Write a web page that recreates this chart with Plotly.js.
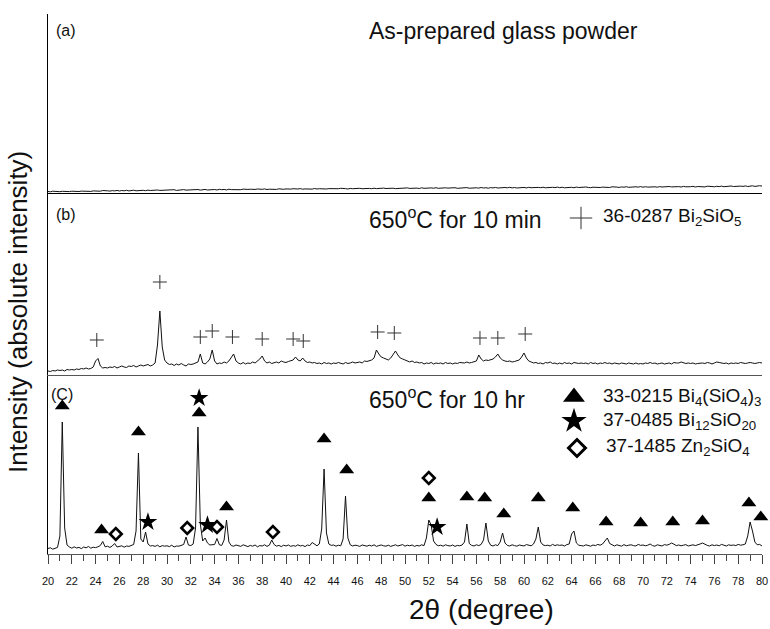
<!DOCTYPE html>
<html>
<head>
<meta charset="utf-8">
<script src="https://cdn.plot.ly/plotly-3.0.1.min.js"></script>
<style>
  html, body { margin: 0; padding: 0; background: #fff; }
  #chart { width: 770px; height: 629px; }
</style>
</head>
<body>
<div id="chart"></div>
<script>
// XRD scans, 2-theta from 20 to 80 degrees in 0.2 degree steps (counts, arbitrary units)
const TWO_THETA_START = 20;
const TWO_THETA_STEP = 0.2;

// (a) as-prepared glass powder
const glassPowder = [
  15,12,18,14,16, 13,17,15,19,14, 18,16,20,15,19, 17,22,18,16,21, 19,23,18,25,20,
  22,19,24,21,26, 20,25,22,27,21, 24,28,22,26,23, 27,23,29,25,28, 24,30,26,28,25,
  31,27,29,33,26, 30,28,34,29,31, 27,33,30,35,29, 32,36,30,34,31, 35,30,37,33,36,
  31,38,34,32,37, 35,33,39,34,36, 38,34,36,40,35, 37,41,35,38,36, 40,36,42,38,37,
  41,37,39,43,38, 40,44,38,41,39, 42,39,45,40,43, 41,46,40,44,42, 45,41,43,47,42,
  44,40,46,43,45, 42,47,43,45,41, 46,43,48,44,47, 43,49,45,47,44, 48,44,46,50,45,
  47,51,46,48,44, 49,45,52,47,50, 46,51,48,53,47, 50,46,52,49,51, 48,53,47,50,52,
  49,54,48,51,47, 52,49,55,50,53, 48,54,51,56,50, 53,49,55,52,57, 51,55,50,54,52,
  56,51,57,53,55, 50,56,53,58,52, 55,51,57,54,59, 53,58,52,56,54, 57,53,59,55,58,
  54,60,56,53,58, 56,61,55,59,57, 60,55,62,57,59, 56,61,58,63,57, 60,57,62,59,64,
  58,63,59,61,57, 62,58,64,60,63, 59,65,61,63,58, 64,60,66,62,61, 63,67,60,65,62,
  66,61,68,63,65, 62,67,64,69,63, 66,63,70,65,68, 64,69,66,71,65, 68,72,66,70,73,
  69
];

// (b) 650 C for 10 min
const heated10min = [
  40,35,45,40,50, 45,50,40,55,50, 55,50,60,55,65, 60,70,60,65,80, 140,165,90,70,75,
  70,80,75,85,70, 80,90,80,75,90, 85,95,80,90,100, 90,95,105,90,100, 120,300,640,280,150,
  120,105,110,95,110, 100,115,100,90,110, 105,110,120,130,210, 120,110,130,160,250,
  140,110,120,115,130, 120,140,180,210,140, 120,110,125,110,120, 115,130,120,140,160,
  190,140,120,130,115, 125,130,120,140,130, 125,135,140,150,180, 150,140,170,140,125,
  130,120,125,115,120, 110,125,115,120,110, 120,115,125,120,110, 125,115,120,130,120,
  125,130,120,140,135, 140,150,170,250,210, 180,170,160,150,170, 200,240,200,170,160,
  150,140,130,140,125, 130,120,125,110,120, 115,125,110,120,115, 120,110,125,115,120,
  110,120,115,125,120, 120,130,120,125,135, 140,200,160,140,150, 145,150,160,180,210,
  170,150,140,135,140, 130,135,140,150,180, 220,170,140,130,120, 125,115,120,110,125,
  120,130,115,120,110, 120,110,125,115,120, 110,125,120,115,120, 115,120,110,125,115,
  120,110,120,115,125, 115,120,110,120,115, 110,120,115,110,120, 115,110,120,110,115,
  110,120,115,125,115, 120,110,115,120,110, 115,120,110,125,120, 120,130,120,115,120,
  115,120,110,115,120, 120,115,125,120,110, 120,130,125,120,115, 120,110,120,115,120,
  115,125,120,115,120, 125,120,115,120,125, 120
];

// (c) 650 C for 10 hr
const heated10hr = [
  55,62,48,60,66, 180,1320,260,90,70, 58,72,60,66,54, 70,62,75,58,68, 64,72,85,125,72,
  78,66,80,105,70, 74,82,68,80,76, 86,95,230,1010,150, 120,220,100,80,84, 76,88,72,84,78,
  82,74,88,70,80, 78,86,95,170,90, 84,100,260,1270,300, 130,160,110,90,96, 95,155,92,86,140,
  340,120,84,78,90, 82,76,92,80,74, 86,78,90,72,84, 80,92,76,88,140, 95,78,86,74,88,
  80,90,76,84,78, 92,80,86,74,90, 84,115,96,82,100, 250,850,210,100,86, 90,78,88,82,150,
  580,160,92,80,88, 84,76,90,82,78, 88,80,92,76,84, 90,82,78,88,76, 84,92,80,86,94,
  78,88,82,90,76, 86,80,92,84,160, 340,290,130,96,82, 88,78,92,84,80, 90,76,86,82,90,
  120,300,105,86,80, 92,84,96,140,310, 130,88,80,92,84, 120,210,110,86,80, 92,84,78,90,86,
  80,94,86,82,100, 150,270,120,90,84, 88,80,96,84,92, 86,90,80,94,100, 200,230,110,88,84,
  80,92,86,78,90, 84,96,88,100,130, 160,105,88,80,92, 86,78,94,82,88, 92,84,80,96,86,
  90,82,88,100,84, 78,92,86,80,94, 88,96,110,98,84, 90,82,88,94,80, 86,92,84,96,100,
  110,94,86,80,92, 84,90,82,96,88, 80,92,86,90,84, 96,88,92,100,180, 320,230,120,92,96,
  80
];

// Phase reflections marked on panel (b): 36-0287 Bi2SiO5
const bi2sio5Theta  = [24.1, 29.4, 32.8, 33.8, 35.5, 38.0, 40.6, 41.45, 47.7, 49.1, 56.3, 57.8, 60.1];
const bi2sio5Level  = [350, 930, 380, 440, 380, 360, 360, 340, 430, 420, 370, 370, 410];

// Phase reflections marked on panel (c)
const bi4sio43Theta = [21.2, 24.5, 27.6, 32.7, 35.0, 43.2, 45.1, 52.0, 55.2, 56.7, 58.3, 61.2, 64.1, 66.9, 69.8, 72.5, 75.0, 78.9, 79.9];
const bi4sio43Level = [1480, 240, 1220, 1410, 470, 1150, 840, 560, 570, 560, 400, 560, 460, 320, 310, 320, 330, 510, 370];
const bi12sio20Theta = [28.4, 32.7, 33.4, 52.7];
const bi12sio20Level = [320, 1560, 290, 270];
const zn2sio4Theta  = [25.7, 31.7, 34.2, 38.9, 52.0];
const zn2sio4Level  = [200, 260, 270, 220, 760];

// plot-area geometry helpers (pixels -> paper fractions)
const L = 48, R = 762, T = 14, B = 554;
const px = x => (x - L) / (R - L);
const py = y => (B - y) / (B - T);

const FONT = 'Liberation Sans, Arial, sans-serif';
const INK = '#111';

const scan = (y, xa, ya) => ({
  type: 'scatter', mode: 'lines', x0: TWO_THETA_START, dx: TWO_THETA_STEP, y: y,
  xaxis: xa, yaxis: ya, line: { color: INK, width: 1 }, hoverinfo: 'skip'
});

const tri = { symbol: 'triangle-up', size: 13, color: '#000' };
const star = { symbol: 'star', size: 14, color: '#000' };
const diam = { symbol: 'diamond-open', size: 9, color: '#000', line: { width: 2.6, color: '#000' } };
const cross = { symbol: 'cross-thin', size: 10, line: { width: 1, color: '#333' } };

const data = [
  scan(heated10hr, 'x', 'y'),
  scan(heated10min, 'x2', 'y2'),
  scan(glassPowder, 'x3', 'y3'),
  { type: 'scatter', mode: 'markers', x: bi2sio5Theta, y: bi2sio5Level, xaxis: 'x2', yaxis: 'y2', marker: cross, cliponaxis: false },
  { type: 'scatter', mode: 'markers', x: bi4sio43Theta, y: bi4sio43Level, xaxis: 'x', yaxis: 'y', marker: tri, cliponaxis: false },
  { type: 'scatter', mode: 'markers', x: bi12sio20Theta, y: bi12sio20Level, xaxis: 'x', yaxis: 'y', marker: star, cliponaxis: false },
  { type: 'scatter', mode: 'markers', x: zn2sio4Theta, y: zn2sio4Level, xaxis: 'x', yaxis: 'y', marker: diam, cliponaxis: false },
  // key symbols next to the phase labels
  { type: 'scatter', mode: 'markers', x: [px(581)], y: [py(218)], xaxis: 'x4', yaxis: 'y4',
    marker: { symbol: 'cross-thin', size: 16, line: { width: 1, color: '#333' } }, cliponaxis: false },
  { type: 'scatter', mode: 'markers', x: [px(574)], y: [py(397)], xaxis: 'x4', yaxis: 'y4',
    marker: { symbol: 'triangle-up', size: 19, color: '#000' }, cliponaxis: false },
  { type: 'scatter', mode: 'markers', x: [px(574)], y: [py(421)], xaxis: 'x4', yaxis: 'y4',
    marker: { symbol: 'star', size: 19, color: '#000' }, cliponaxis: false },
  { type: 'scatter', mode: 'markers', x: [px(577)], y: [py(448)], xaxis: 'x4', yaxis: 'y4',
    marker: { symbol: 'diamond-open', size: 13, color: '#000', line: { width: 3, color: '#000' } }, cliponaxis: false }
];

const hiddenY = (domain, top) => ({
  domain: domain, range: [0, top], showline: true, linecolor: '#000', linewidth: 1,
  ticks: '', showticklabels: false, showgrid: false, zeroline: false, fixedrange: true
});
const upperX = (anchor, color) => ({
  matches: 'x', anchor: anchor, showline: true, linecolor: color, linewidth: 1,
  ticks: '', showticklabels: false, showgrid: false, zeroline: false
});

const ann = (text, x, y, size, extra) => Object.assign({
  text: text, xref: 'paper', yref: 'paper', x: px(x), y: py(y),
  xanchor: 'left', yanchor: 'middle', showarrow: false,
  font: { family: FONT, size: size, color: '#111' }
}, extra || {});

const layout = {
  width: 770, height: 629,
  margin: { l: L, r: 770 - R, t: T, b: 629 - B },
  paper_bgcolor: '#fff', plot_bgcolor: 'rgba(0,0,0,0)',
  showlegend: false,
  xaxis: {
    domain: [0, 1], range: [20, 80], anchor: 'y',
    showline: true, linecolor: '#555', linewidth: 1,
    ticks: 'outside', tick0: 20, dtick: 2, ticklen: 9, tickcolor: '#444', tickwidth: 1,
    minor: { dtick: 1, ticks: 'outside', ticklen: 6, tickcolor: '#444', tickwidth: 1 },
    ticklabelstandoff: 8,
    tickfont: { family: FONT, size: 11, color: '#111' },
    showgrid: false, zeroline: false
  },
  xaxis2: upperX('y2', '#555'),
  xaxis3: upperX('y3', '#000'),
  yaxis: hiddenY([0, 0.3315], 1790),
  yaxis2: hiddenY([0.3315, 0.6685], 1820),
  yaxis3: hiddenY([0.6685, 1], 1790),
  xaxis4: { domain: [0, 1], range: [0, 1], anchor: 'y4', visible: false, fixedrange: true },
  yaxis4: { domain: [0, 1], range: [0, 1], anchor: 'x4', visible: false, fixedrange: true },
  annotations: [
    ann('(a)', 54, 31, 16),
    ann('As-prepared glass powder', 367, 31, 23),
    ann('(b)', 54, 214, 16),
    ann('650<sup>o</sup>C for 10 min', 367, 218, 23),
    ann('36-0287 Bi<sub>2</sub>SiO<sub>5</sub>', 601, 217, 19),
    ann('(C)', 49, 395, 16),
    ann('650<sup>o</sup>C for 10 hr', 367, 398, 23),
    ann('33-0215 Bi<sub>4</sub>(SiO<sub>4</sub>)<sub>3</sub>', 601, 397, 19),
    ann('37-0485 Bi<sub>12</sub>SiO<sub>20</sub>', 601, 421, 19),
    ann('37-1485 Zn<sub>2</sub>SiO<sub>4</sub>', 604, 447, 19),
    ann('Intensity (absolute intensity)', 18, 312, 26, { xanchor: 'center', textangle: -90 }),
    ann('2θ (degree)', 482, 609, 28, { xanchor: 'center' })
  ]
};

Plotly.newPlot('chart', data, layout, { staticPlot: true, displayModeBar: false });
</script>
</body>
</html>
